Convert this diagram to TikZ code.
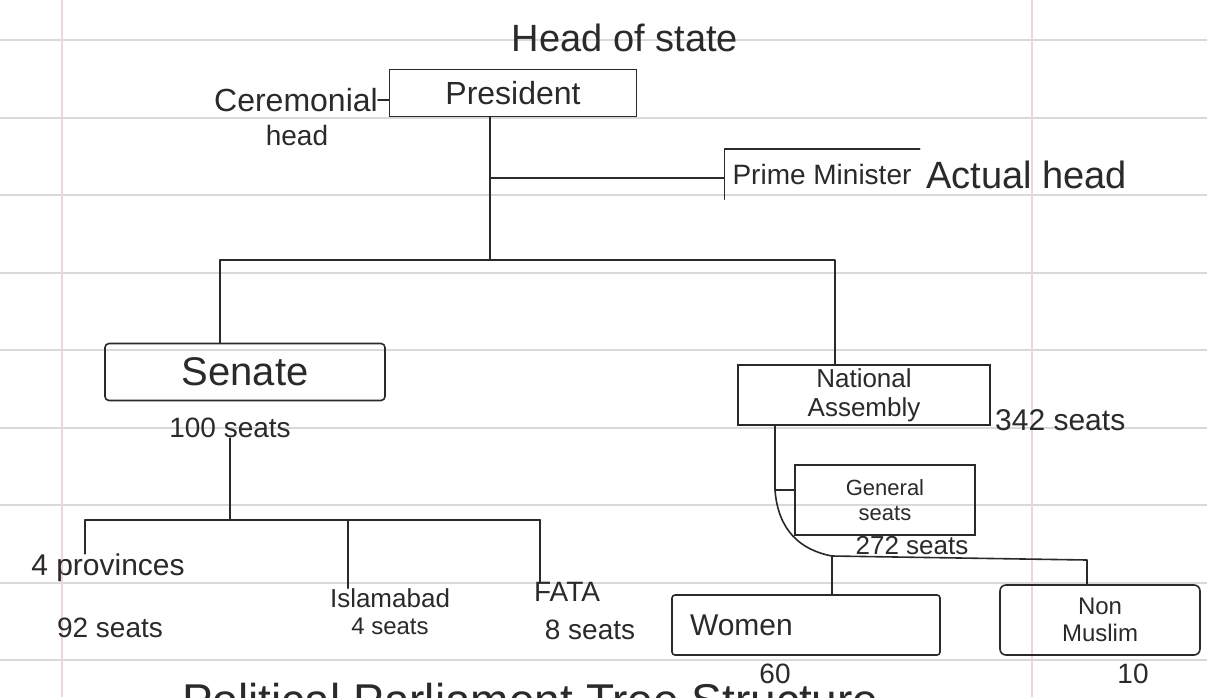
\documentclass[tikz,border=0pt]{standalone}
\usepackage{fontspec}
\setmainfont{Liberation Sans}
\definecolor{ink}{HTML}{2A2A2A}
\definecolor{paperrule}{HTML}{D9D9D9}
\definecolor{paperedge}{HTML}{EBD9D9}
\tikzset{
  lbl/.style={text=ink, inner sep=0pt, font=\fontsize{#1}{#1}\selectfont},
  lbl/.default=28,
  bx/.style={draw=ink, line width=1.6pt, text=ink},
  wire/.style={draw=ink, line width=1.6pt, line cap=round, line join=round},
  ruling/.style={draw=paperrule, line width=1.2pt},
  marginline/.style={draw=paperedge, line width=1.2pt}
}
\begin{document}
\begin{tikzpicture}[x=1pt,y=-1pt]
\useasboundingbox (0,0) rectangle (1207,697);
\clip (0,0) rectangle (1207,697);
\fill[white] (0,0) rectangle (1207,697);
% ruled paper
\foreach \yy in {40,118,195,273,350,428,505,583,660}
  \draw[ruling] (0,\yy) -- (1207,\yy);
\draw[marginline] (62,0) -- (62,697);
\draw[marginline] (1032,0) -- (1032,697);

% top
\node[lbl=38] (hos) at (625,38) {Head of state};
\node[bx, font=\fontsize{32}{32}\selectfont, inner sep=0pt, minimum width=247pt, minimum height=47pt] (pres) at (513,93) {President};
\node[lbl=32, anchor=east] (cer) at (378,100) {Ceremonial};
\node[lbl=28] (cerh) at (297,135) {head};
\draw[wire] (cer.east) -- (cer.east -| pres.west);

% prime minister
\node[lbl=28, minimum width=195pt, minimum height=50pt] (pm) at (822,174) {Prime Minister};
\draw[wire] (pm.north east) -- (pm.north west) -- (pm.south west);
\node[lbl=38, anchor=west] (act) at (926,175) {Actual head};

\coordinate (j1) at (490,178);
\coordinate (j2) at (490,260);
\coordinate (bL) at (220,260);
\coordinate (bR) at (835,260);

% senate
\node[bx, font=\fontsize{40}{40}\selectfont, inner sep=0pt, minimum width=280pt, minimum height=57pt, rounded corners=4pt] (sen) at (245,372) {Senate};
\node[lbl=28] (sens) at (230,428) {100 seats};

% national assembly
\node[bx, font=\fontsize{26}{29}\selectfont, align=center, inner sep=0pt, minimum width=252pt, minimum height=60pt] (na) at (864,395) {National\\Assembly};
\node[lbl=30, anchor=west] (nas) at (995,420) {342 seats};

\draw[wire] (j2 |- pres.south) -- (j2);
\draw[wire] (j1) -- (j1 -| pm.west);
\draw[wire] (bL |- sen.north) -- (bL) -- (bR) -- (bR |- na.north);

% senate children
\node[lbl=30] (prov) at (108,568) {4 provinces};
\node[lbl=28] (provs) at (110,628) {92 seats};
\node[lbl=26] (isl) at (390,598) {Islamabad};
\node[lbl=24] (isls) at (390,626) {4 seats};
\node[lbl=28] (fata) at (567,592) {FATA};
\node[lbl=28] (fatas) at (590,630) {8 seats};
\coordinate (k0) at (230,520);
\coordinate (k1) at (85,520);
\coordinate (k2) at (348,520);
\coordinate (k3) at (540,520);
\draw[wire] (sens.south) -- (k0);
\draw[wire] (k1) -- (k3);
\draw[wire] (k1) -- (k1 |- prov.north);
\draw[wire] (k2) -- (k2 |- isl.north);
\draw[wire] (k3) -- (k3 |- fata.north);

% national assembly children
\node[bx, font=\fontsize{22}{25}\selectfont, align=center, inner sep=0pt, minimum width=180pt, minimum height=70pt] (gen) at (885,500) {General\\seats};
\node[lbl=26] (gens) at (912,546) {272 seats};
\node[bx, font=\fontsize{30}{30}\selectfont, align=left, text width=232pt, inner xsep=18pt, inner ysep=0pt, minimum height=60pt, rounded corners=3pt] (wom) at (806,625) {Women};
\node[lbl=28] (w60) at (775,674) {60};
\node[bx, font=\fontsize{24}{27}\selectfont, align=center, inner sep=0pt, minimum width=200pt, minimum height=70pt, rounded corners=6pt] (nm) at (1100,620) {Non\\Muslim};
\node[lbl=28] (n10) at (1133,674) {10};

\coordinate (g2) at (775,490);
\coordinate (j3) at (832,556);
\coordinate (j4) at (1087,560);
\draw[wire] (g2 |- na.south) -- (g2) -- (g2 -| gen.west);
\draw[wire] (g2) .. controls (778,530) and (800,550) .. (j3);
\draw[wire] (j3) -- (j3 |- wom.north);
\draw[wire] (j3) -- (j4) -- (j4 |- nm.north);

% title, cut off by the bottom edge as in the photo
\node[lbl=46, anchor=base west] (title) at (182,716) {Political Parliament Tree Structure};
\end{tikzpicture}
\end{document}
